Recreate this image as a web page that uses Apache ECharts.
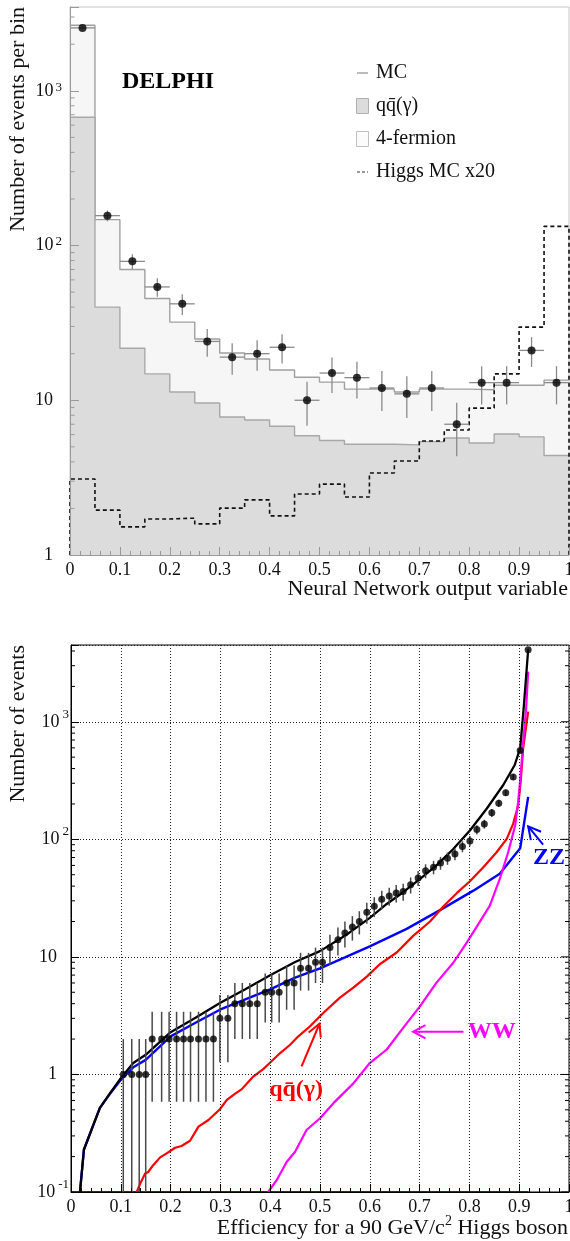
<!DOCTYPE html>
<html>
<head>
<meta charset="utf-8">
<script src="https://cdn.jsdelivr.net/npm/echarts@6/dist/echarts.min.js"></script>
<style>
html, body { margin: 0; padding: 0; background: #fff; }
#c { width: 570px; height: 1241px; }
</style>
</head>
<body>
<div id="c"></div>
<script>
// ---------- Upper panel: neural network output, 20 bins ----------
const binEdges = [0, 0.05, 0.1, 0.15, 0.2, 0.25, 0.3, 0.35, 0.4, 0.45, 0.5,
                  0.55, 0.6, 0.65, 0.7, 0.75, 0.8, 0.85, 0.9, 0.95, 1];
const dataPerBin = [2550, 156, 79, 54, 42, 24, 19, 20, 22, 10, 15, 14, 12, 11, 12, 7, 13, 13, 21, 13];
const mcTotalPerBin = [2654, 147, 70, 45.5, 32, 24.9, 20.2, 18.5, 15.7, 14.1, 13.1, 11.8, 11.8, 11.3, 11.8, 11.8, 11.7, 12.5, 12.5, 13.5];
const qqPerBin = [675, 40, 21.7, 14.8, 11.3, 9.6, 7.8, 7.45, 6.8, 5.9, 5.5, 5.2, 5.2, 5.15, 5.4, 5.7, 5.3, 6.05, 5.8, 4.4];
const higgsX20PerBin = [3.1, 1.95, 1.52, 1.71, 1.73, 1.59, 2.01, 2.27, 1.79, 2.48, 2.87, 2.37, 3.39, 4.05, 5.45, 6.42, 8.9, 14.8, 29.7, 133];

// ---------- Lower panel: events vs signal efficiency ----------
const effData = [0.105, 0.122, 0.137, 0.150, 0.163, 0.182, 0.197, 0.212, 0.226, 0.240, 0.256, 0.271, 0.286,
                 0.299, 0.315, 0.329, 0.344, 0.359, 0.374, 0.390, 0.403, 0.418, 0.433, 0.448, 0.461, 0.477,
                 0.491, 0.505, 0.520, 0.536, 0.550, 0.565, 0.579, 0.594, 0.609, 0.624, 0.639, 0.653, 0.667,
                 0.682, 0.697, 0.712, 0.728, 0.742, 0.756, 0.771, 0.786, 0.801, 0.815, 0.830, 0.845, 0.859,
                 0.873, 0.888, 0.902, 0.918];
const eventsData = [1, 1, 1, 1, 2, 2, 2, 2, 2, 2, 2, 2, 2,
                    3, 3, 4, 4, 4, 4, 5, 5, 5, 6, 6, 8, 8,
                    9, 9, 12, 14, 16, 18, 20, 24, 27, 31, 33, 35, 36,
                    41, 47, 54, 58, 63, 69, 75, 87, 97, 121, 135, 168, 203,
                    249, 339, 571, 4100];

const effTotal = [0.018, 0.026, 0.058, 0.078, 0.1, 0.125, 0.15, 0.2, 0.25, 0.3, 0.35, 0.4, 0.45, 0.5, 0.55,
                  0.6, 0.634, 0.667, 0.701, 0.734, 0.768, 0.801, 0.835, 0.868, 0.891, 0.902, 0.909, 0.918];
const eventsTotal = [0.1, 0.23, 0.52, 0.69, 0.93, 1.25, 1.47, 2.29, 3.03, 4.07, 5.3, 6.98, 9.06, 11.2, 15.1,
                     21.5, 28.2, 35.5, 46.1, 60, 83, 119, 183, 290, 429, 596, 1310, 4100];

const effZZ = [0.018, 0.026, 0.058, 0.078, 0.1, 0.125, 0.15, 0.2, 0.25, 0.3, 0.35, 0.4, 0.45, 0.5, 0.55,
               0.6, 0.674, 0.741, 0.808, 0.861, 0.902, 0.918];
const eventsZZ = [0.1, 0.23, 0.52, 0.68, 0.9, 1.15, 1.33, 2.11, 2.75, 3.57, 4.35, 5.3, 6.67, 8.0, 9.9,
                  12.3, 17.3, 25, 36.6, 51, 84, 230];

const effQQ = [0.132, 0.139, 0.149, 0.155, 0.165, 0.179, 0.192, 0.209, 0.222, 0.239, 0.256, 0.276, 0.299, 0.313,
               0.329, 0.343, 0.366, 0.386, 0.399, 0.42, 0.44, 0.456, 0.48, 0.507, 0.54, 0.567, 0.594, 0.62,
               0.654, 0.687, 0.721, 0.748, 0.775, 0.801, 0.828, 0.855, 0.875, 0.888, 0.898, 0.903, 0.908, 0.918];
const eventsQQ = [0.1, 0.118, 0.144, 0.148, 0.169, 0.197, 0.213, 0.238, 0.246, 0.273, 0.36, 0.41, 0.506, 0.608,
                  0.684, 0.75, 0.96, 1.11, 1.25, 1.52, 1.79, 2.1, 2.57, 3.35, 4.5, 5.47, 6.8, 8.66,
                  10.9, 15.1, 20, 27, 35, 44, 58, 78, 101, 136, 195, 309, 596, 1220];

const effWW = [0.396, 0.413, 0.433, 0.45, 0.473, 0.5, 0.527, 0.567, 0.6, 0.634, 0.667, 0.701, 0.734,
               0.768, 0.795, 0.818, 0.841, 0.861, 0.878, 0.892, 0.898, 0.903, 0.908, 0.914, 0.918];
const eventsWW = [0.1, 0.126, 0.18, 0.22, 0.337, 0.424, 0.57, 0.84, 1.25, 1.63, 2.49, 3.81, 6.04,
                  8.96, 13.3, 19, 27.3, 46, 78, 132, 209, 352, 680, 1310, 2670];

// qq(gamma) graph running along the floor of the log scale
const floorEff = [0, 0.918];

// Curve labels with their arrows (data coordinates of the lower panel)
const annotText = ['ZZ', 'WW', 'qq\u0304(\u03b3)'];
const annotTextAt = [[0.96, 70], [0.845, 2.31], [0.452, 0.74]];
const arrowTail = [[0.948, 90], [0.788, 2.31], [0.463, 1.17]];
const arrowHead = [[0.918, 129], [0.687, 2.31], [0.499, 2.7]];
const annotColors = ['#0000ff', '#ff00ff', '#ff0000'];

// ---------- helpers ----------
const FONT = "'Liberation Serif', 'Times New Roman', serif";
const TOP_YMIN = 1, TOP_YMAX = 3480;
const BOT_YMIN = 0.1, BOT_YMAX = 4500;

const zip = (xs, ys) => xs.map((x, i) => [x, ys[i]]);
const binCenters = dataPerBin.map((_, i) => (binEdges[i] + binEdges[i + 1]) / 2);
function stepPoints(values) {
  const pts = values.map((v, i) => [binEdges[i], v]);
  pts.push([binEdges[values.length], values[values.length - 1]]);
  return pts;
}
// tick rows on a log axis: [x, value, isDecade]
function logTickRows(lo, hi) {
  const rows = [];
  for (let e = Math.floor(Math.log10(lo)); e <= Math.ceil(Math.log10(hi)); e++) {
    for (let m = 1; m <= 9; m++) {
      const v = m * Math.pow(10, e);
      if (v >= lo * 0.999 && v <= hi) rows.push([0, v, m === 1 ? 1 : 0]);
    }
  }
  return rows;
}
function decadeLabel(v) {
  const lg = Math.log10(v);
  const e = Math.round(lg);
  if (Math.abs(lg - e) > 1e-6) return '';
  if (e === 0) return '{b|1}{p|\u00a0}';
  if (e === 1) return '{b|10}{p|\u00a0}';
  return '{b|10}{s|' + e + '}';
}

const chart = echarts.init(document.getElementById('c'), null, { renderer: 'canvas', width: 570, height: 1241 });

const greyAxis = '#9a9a9a';
const textCol = '#111';

const option = {
  animation: false,
  backgroundColor: '#fff',
  grid: [
    { left: 70, top: 7, width: 499, height: 548, show: true, borderColor: '#c8c8c8', borderWidth: 1,
      backgroundColor: 'transparent', containLabel: false, outerBoundsMode: 'none' },
    { left: 71, top: 645, width: 498, height: 547, show: true, borderColor: '#000', borderWidth: 1,
      backgroundColor: 'transparent', containLabel: false, outerBoundsMode: 'none' }
  ],
  xAxis: [
    {
      gridIndex: 0, type: 'value', min: 0, max: 1, interval: 0.1, z: 10,
      axisLine: { show: true, onZero: false, lineStyle: { color: greyAxis, width: 1 } },
      axisTick: { show: true, inside: true, length: 8, lineStyle: { color: greyAxis } },
      minorTick: { show: true, splitNumber: 5, length: 4, lineStyle: { color: greyAxis } },
      axisLabel: { fontSize: 18, fontFamily: FONT, color: textCol, margin: 6 },
      splitLine: { show: false }, minorSplitLine: { show: false }
    },
    {
      gridIndex: 1, type: 'value', min: 0, max: 1, interval: 0.1, z: 10,
      axisLine: { show: true, onZero: false, lineStyle: { color: '#000', width: 1 } },
      axisTick: { show: true, inside: true, length: 8, lineStyle: { color: '#000' } },
      minorTick: { show: true, splitNumber: 5, length: 4, lineStyle: { color: '#000' } },
      axisLabel: { fontSize: 18, fontFamily: FONT, color: textCol, margin: 6 },
      splitLine: { show: true, lineStyle: { color: '#222', width: 1, type: [1, 2] } },
      minorSplitLine: { show: false }
    }
  ],
  yAxis: [
    {
      gridIndex: 0, type: 'log', logBase: 10, min: TOP_YMIN, max: TOP_YMAX, z: 10,
      axisLine: { show: true, onZero: false, lineStyle: { color: greyAxis, width: 1 } },
      axisTick: { show: true, inside: true, length: 9, lineStyle: { color: greyAxis } },
      axisLabel: {
        margin: 8, formatter: decadeLabel, color: textCol,
        rich: {
          b: { fontSize: 18, fontFamily: FONT, color: textCol, lineHeight: 20 },
          s: { fontSize: 13, fontFamily: FONT, color: textCol, lineHeight: 13, verticalAlign: 'top', padding: [0, 0, 0, 2] },
          p: { width: 9, fontSize: 13 }
        }
      },
      splitLine: { show: false }
    },
    {
      gridIndex: 1, type: 'log', logBase: 10, min: BOT_YMIN, max: BOT_YMAX, z: 10,
      axisLine: { show: true, onZero: false, lineStyle: { color: '#000', width: 1 } },
      axisTick: { show: true, inside: true, length: 8, lineStyle: { color: '#000' } },
      axisLabel: {
        margin: 2, formatter: decadeLabel, color: textCol,
        rich: {
          b: { fontSize: 18, fontFamily: FONT, color: textCol, lineHeight: 28 },
          s: { fontSize: 13, fontFamily: FONT, color: textCol, lineHeight: 13, verticalAlign: 'top', padding: [0, 0, 0, 3] },
          p: { width: 12, fontSize: 13 }
        }
      },
      splitLine: { show: true, lineStyle: { color: '#222', width: 1, type: [1, 2] } }
    }
  ],
  series: [
    // total MC (4-fermion shown as the light band above qq)
    {
      name: '4-fermion', type: 'line', xAxisIndex: 0, yAxisIndex: 0, step: 'end', z: 2,
      data: stepPoints(mcTotalPerBin), symbol: 'none',
      lineStyle: { color: '#a0a0a0', width: 1.4 },
      areaStyle: { color: '#f6f6f6', opacity: 1, origin: 'start' }
    },
    {
      name: 'qq\u0304(\u03b3)', type: 'line', xAxisIndex: 0, yAxisIndex: 0, step: 'end', z: 3,
      data: stepPoints(qqPerBin), symbol: 'none',
      lineStyle: { color: '#a8a8a8', width: 1.4 },
      areaStyle: { color: '#dcdcdc', opacity: 1, origin: 'start' }
    },
    {
      name: 'Higgs MC x20', type: 'line', xAxisIndex: 0, yAxisIndex: 0, step: 'end', z: 4,
      data: [[0, TOP_YMIN]].concat(stepPoints(higgsX20PerBin), [[1, TOP_YMIN]]),
      symbol: 'none', clip: false,
      lineStyle: { color: '#111', width: 1.6, type: [4, 3] }
    },
    {
      name: 'data errors', type: 'custom', xAxisIndex: 0, yAxisIndex: 0, z: 5, silent: true,
      data: zip(binCenters, dataPerBin),
      renderItem(params, api) {
        const x = api.value(0), n = api.value(1), e = Math.sqrt(n);
        const a = api.coord([x, Math.max(n - e, TOP_YMIN)]);
        const b = api.coord([x, n + e]);
        const l = api.coord([x - 0.025, n]);
        const r = api.coord([x + 0.025, n]);
        const st = { stroke: '#8a8a8a', lineWidth: 1.3 };
        return { type: 'group', children: [
          { type: 'line', shape: { x1: a[0], y1: a[1], x2: b[0], y2: b[1] }, style: st },
          { type: 'line', shape: { x1: l[0], y1: l[1], x2: r[0], y2: r[1] }, style: st }
        ] };
      }
    },
    {
      name: 'Data', type: 'scatter', xAxisIndex: 0, yAxisIndex: 0, z: 6,
      data: zip(binCenters, dataPerBin), symbol: 'circle', symbolSize: 8,
      itemStyle: { color: '#000' }
    },
    {
      name: 'top minor ticks', type: 'custom', xAxisIndex: 0, yAxisIndex: 0, z: 11, silent: true, clip: false,
      data: logTickRows(TOP_YMIN, TOP_YMAX).filter(r => !r[2]),
      renderItem(params, api) {
        const p = api.coord([0, api.value(1)]);
        return { type: 'line', shape: { x1: p[0], y1: p[1], x2: p[0] + 4.5, y2: p[1] },
                 style: { stroke: greyAxis, lineWidth: 1 } };
      }
    },

    // lower panel
    {
      name: 'floor', type: 'line', xAxisIndex: 1, yAxisIndex: 1, z: 3, clip: false,
      data: floorEff.map(x => [x, BOT_YMIN]), symbol: 'none',
      lineStyle: { color: '#8b0000', width: 2 }
    },
    {
      name: 'ZZ', type: 'line', xAxisIndex: 1, yAxisIndex: 1, z: 3,
      data: zip(effZZ, eventsZZ), symbol: 'none', lineStyle: { color: '#0000ff', width: 2.4 }
    },
    {
      name: 'qq', type: 'line', xAxisIndex: 1, yAxisIndex: 1, z: 3,
      data: zip(effQQ, eventsQQ), symbol: 'none', lineStyle: { color: '#ff0000', width: 2.2 }
    },
    {
      name: 'WW', type: 'line', xAxisIndex: 1, yAxisIndex: 1, z: 3,
      data: zip(effWW, eventsWW), symbol: 'none', lineStyle: { color: '#ff00ff', width: 2.2 }
    },
    {
      name: 'Total MC', type: 'line', xAxisIndex: 1, yAxisIndex: 1, z: 4,
      data: zip(effTotal, eventsTotal), symbol: 'none', lineStyle: { color: '#000', width: 2.3 }
    },
    {
      name: 'eff errors', type: 'custom', xAxisIndex: 1, yAxisIndex: 1, z: 5, silent: true,
      data: zip(effData, eventsData),
      renderItem(params, api) {
        const x = api.value(0), n = api.value(1), e = Math.sqrt(n);
        const a = api.coord([x, Math.max(n - e, BOT_YMIN)]);
        const b = api.coord([x, n + e]);
        return { type: 'line', shape: { x1: a[0], y1: a[1], x2: b[0], y2: b[1] },
                 style: { stroke: '#4a4a4a', lineWidth: 1.5 } };
      }
    },
    {
      name: 'Data eff', type: 'scatter', xAxisIndex: 1, yAxisIndex: 1, z: 6,
      data: zip(effData, eventsData), symbol: 'circle', symbolSize: 7,
      itemStyle: { color: '#000' }
    },
    {
      name: 'bottom ticks', type: 'custom', xAxisIndex: 1, yAxisIndex: 1, z: 11, silent: true, clip: false,
      data: logTickRows(BOT_YMIN, BOT_YMAX),
      renderItem(params, api) {
        const v = api.value(1), major = api.value(2) === 1;
        const pl = api.coord([0, v]);
        const pr = api.coord([1, v]);
        const len = major ? 8 : 4;
        const st = { stroke: '#000', lineWidth: 1 };
        const kids = [{ type: 'line', shape: { x1: pr[0], y1: pr[1], x2: pr[0] - len, y2: pr[1] }, style: st }];
        if (!major) kids.push({ type: 'line', shape: { x1: pl[0], y1: pl[1], x2: pl[0] + len, y2: pl[1] }, style: st });
        return { type: 'group', children: kids };
      }
    },
    {
      name: 'curve labels', type: 'custom', xAxisIndex: 1, yAxisIndex: 1, z: 12, silent: true, clip: false,
      data: annotTextAt,
      renderItem(params, api) {
        const i = params.dataIndex;
        const c = annotColors[i];
        const t = api.coord(annotTextAt[i]);
        const tail = api.coord(arrowTail[i]);
        const head = api.coord(arrowHead[i]);
        const dx = tail[0] - head[0], dy = tail[1] - head[1];
        const L = Math.hypot(dx, dy) || 1;
        const ux = dx / L, uy = dy / L;
        const ang = 28 * Math.PI / 180, len = 14;
        const arm = s => [head[0] + len * (ux * Math.cos(s * ang) - uy * Math.sin(s * ang)),
                          head[1] + len * (ux * Math.sin(s * ang) + uy * Math.cos(s * ang))];
        return { type: 'group', children: [
          { type: 'line', shape: { x1: tail[0], y1: tail[1], x2: head[0], y2: head[1] }, style: { stroke: c, lineWidth: 2 } },
          { type: 'polyline', shape: { points: [arm(1), head, arm(-1)] }, style: { stroke: c, lineWidth: 2, fill: 'none' } },
          { type: 'text', x: t[0], y: t[1], style: { text: annotText[i], fill: c, fontSize: 24, fontWeight: 'bold',
            fontFamily: FONT, align: 'center', verticalAlign: 'middle' } }
        ] };
      }
    }
  ],
  graphic: [
    // axis titles
    { type: 'text', x: 18, y: 7, rotation: Math.PI / 2, z: 20,
      style: { text: 'Number of events per bin', fontSize: 22, fontFamily: FONT, fill: textCol, align: 'right', verticalAlign: 'middle' } },
    { type: 'text', x: 568, y: 589, z: 20,
      style: { text: 'Neural Network output variable', fontSize: 22, fontFamily: FONT, fill: textCol, align: 'right', verticalAlign: 'middle' } },
    { type: 'text', x: 18, y: 645, rotation: Math.PI / 2, z: 20,
      style: { text: 'Number of events', fontSize: 22, fontFamily: FONT, fill: textCol, align: 'right', verticalAlign: 'middle' } },
    { type: 'text', x: 568, y: 1228, z: 20,
      style: { text: 'Efficiency for a 90 GeV/c{s|2} Higgs boson', fontSize: 22, fontFamily: FONT, fill: textCol,
               align: 'right', verticalAlign: 'middle', lineHeight: 28,
               rich: { s: { fontSize: 14, fontFamily: FONT, fill: textCol, lineHeight: 14, verticalAlign: 'top' } } } },
    // experiment label
    { type: 'text', x: 122, y: 82, z: 20,
      style: { text: 'DELPHI', fontSize: 24, fontWeight: 'bold', fontFamily: FONT, fill: '#000', align: 'left', verticalAlign: 'middle' } },
    // legend of the upper panel
    { type: 'line', z: 20, shape: { x1: 357, y1: 73, x2: 368, y2: 73 }, style: { stroke: '#a0a0a0', lineWidth: 1.4 } },
    { type: 'rect', z: 20, shape: { x: 356.5, y: 98.5, width: 12, height: 15 }, style: { fill: '#dcdcdc', stroke: '#b0b0b0', lineWidth: 1 } },
    { type: 'rect', z: 20, shape: { x: 356.5, y: 131.5, width: 12, height: 15 }, style: { fill: '#fbfbfb', stroke: '#c0c0c0', lineWidth: 1 } },
    { type: 'line', z: 20, shape: { x1: 357, y1: 172, x2: 368, y2: 172 }, style: { stroke: '#777', lineWidth: 1.3, lineDash: [3, 2] } },
    { type: 'text', x: 376, y: 73, z: 20, style: { text: 'MC', fontSize: 20, fontFamily: FONT, fill: textCol, verticalAlign: 'middle' } },
    { type: 'text', x: 376, y: 106, z: 20, style: { text: 'qq\u0304(\u03b3)', fontSize: 20, fontFamily: FONT, fill: textCol, verticalAlign: 'middle' } },
    { type: 'text', x: 376, y: 139, z: 20, style: { text: '4-fermion', fontSize: 20, fontFamily: FONT, fill: textCol, verticalAlign: 'middle' } },
    { type: 'text', x: 376, y: 172, z: 20, style: { text: 'Higgs MC x20', fontSize: 20, fontFamily: FONT, fill: textCol, verticalAlign: 'middle' } }
  ]
};

chart.setOption(option);
</script>
</body>
</html>
